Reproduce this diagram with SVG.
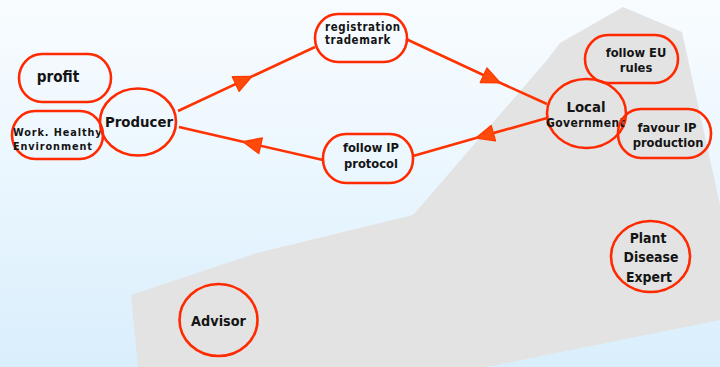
<svg xmlns="http://www.w3.org/2000/svg" width="720" height="367" viewBox="0 0 720 367">
  <defs>
    <linearGradient id="sky" x1="0" y1="0" x2="0" y2="1">
      <stop offset="0" stop-color="#f8fcff"/>
      <stop offset="0.5" stop-color="#eaf6fe"/>
      <stop offset="1" stop-color="#d9eefc"/>
    </linearGradient>
    <marker id="arrow" viewBox="-20 -10 22 20" refX="0" refY="0" markerWidth="22" markerHeight="20" markerUnits="userSpaceOnUse" orient="auto">
      <path d="M-18,-8 L0,0 L-18,8 Z" fill="#ff4a0c" stroke="#ff3c00" stroke-width="1.4" stroke-linejoin="round"/>
    </marker>
    <clipPath id="govClip">
      <rect x="540" y="100" width="87" height="40"/>
    </clipPath>
    <style>
      .node { fill: none; stroke: #ff2a00; stroke-width: 2.6; }
      .edge { fill: none; stroke: #ff3300; stroke-width: 2.6; marker-mid: url(#arrow); }
      text { font-family: "DejaVu Sans Condensed", "DejaVu Sans", Verdana, sans-serif; font-weight: bold; fill: #141414; }
      .c { text-anchor: middle; }
      .s { font-size: 12.8px; }
    </style>
  </defs>

  <!-- background -->
  <rect x="0" y="0" width="720" height="367" fill="url(#sky)"/>
  <!-- grey zone -->
  <polygon points="131,295 257,253 413,215 427,199 547,60 560,43 623,7 682,32 720,205 720,320 487,367 138,367" fill="#e3e3e3"/>

  <!-- connectors -->
  <g id="connectors">
    <path class="edge" d="M178,111 L252,76.4 L315,47"/>
    <path class="edge" d="M406,39 L500,82.7 L547,104"/>
    <path class="edge" d="M547,118 L476,138.1 L413,156"/>
    <path class="edge" d="M323,160 L243,141.7 L179,127"/>
  </g>

  <g id="profit">
    <rect class="node" x="19" y="54" width="92" height="48" rx="23" ry="24"/>
    <text class="c" x="58" y="82" font-size="15.2px">profit</text>
  </g>

  <g id="work-healthy">
    <rect class="node" x="12" y="111" width="91" height="48" rx="23" ry="24"/>
    <text x="13" y="136" font-size="10.8px" letter-spacing="0.9">Work. Healthy</text>
    <text x="13" y="150" font-size="10.8px" letter-spacing="0.9">Environment</text>
  </g>

  <g id="producer">
    <ellipse class="node" cx="138" cy="122" rx="38" ry="33.5"/>
    <text class="c" x="139" y="127" font-size="14.8px">Producer</text>
  </g>

  <g id="registration">
    <rect class="node" x="315" y="14" width="92" height="48" rx="23" ry="24"/>
    <text x="325" y="31" font-size="11.4px" letter-spacing="0.6">registration</text>
    <text x="325" y="44" font-size="11.4px" letter-spacing="0.6">trademark</text>
  </g>

  <g id="follow-ip">
    <rect class="node" x="323" y="134" width="90" height="49" rx="23" ry="24"/>
    <text class="c s" x="371" y="152">follow IP</text>
    <text class="c s" x="371" y="168">protocol</text>
  </g>

  <g id="local-government">
    <ellipse class="node" cx="586.5" cy="113.5" rx="39.5" ry="34.5"/>
    <text class="c" x="586" y="112" font-size="14.8px">Local</text>
    <text x="546" y="127" font-size="12px" letter-spacing="0.4" clip-path="url(#govClip)">Government</text>
  </g>

  <g id="follow-eu">
    <rect class="node" x="585" y="35" width="93" height="48" rx="23" ry="24"/>
    <text class="c s" x="636" y="57">follow EU</text>
    <text class="c s" x="636" y="72">rules</text>
  </g>

  <g id="favour-ip">
    <rect class="node" x="618" y="109" width="93" height="49" rx="23" ry="24"/>
    <text class="c s" x="667" y="132">favour IP</text>
    <text class="c s" x="668" y="147">production</text>
  </g>

  <g id="plant-disease-expert">
    <ellipse class="node" cx="650.5" cy="256.5" rx="39.5" ry="35.5"/>
    <text class="c" x="648" y="243" font-size="13.9px">Plant</text>
    <text class="c" x="651" y="262" font-size="13.9px">Disease</text>
    <text class="c" x="649" y="282" font-size="13.9px">Expert</text>
  </g>

  <g id="advisor">
    <ellipse class="node" cx="218.5" cy="320" rx="39" ry="36"/>
    <text class="c" x="218.5" y="326" font-size="14.3px">Advisor</text>
  </g>
</svg>
